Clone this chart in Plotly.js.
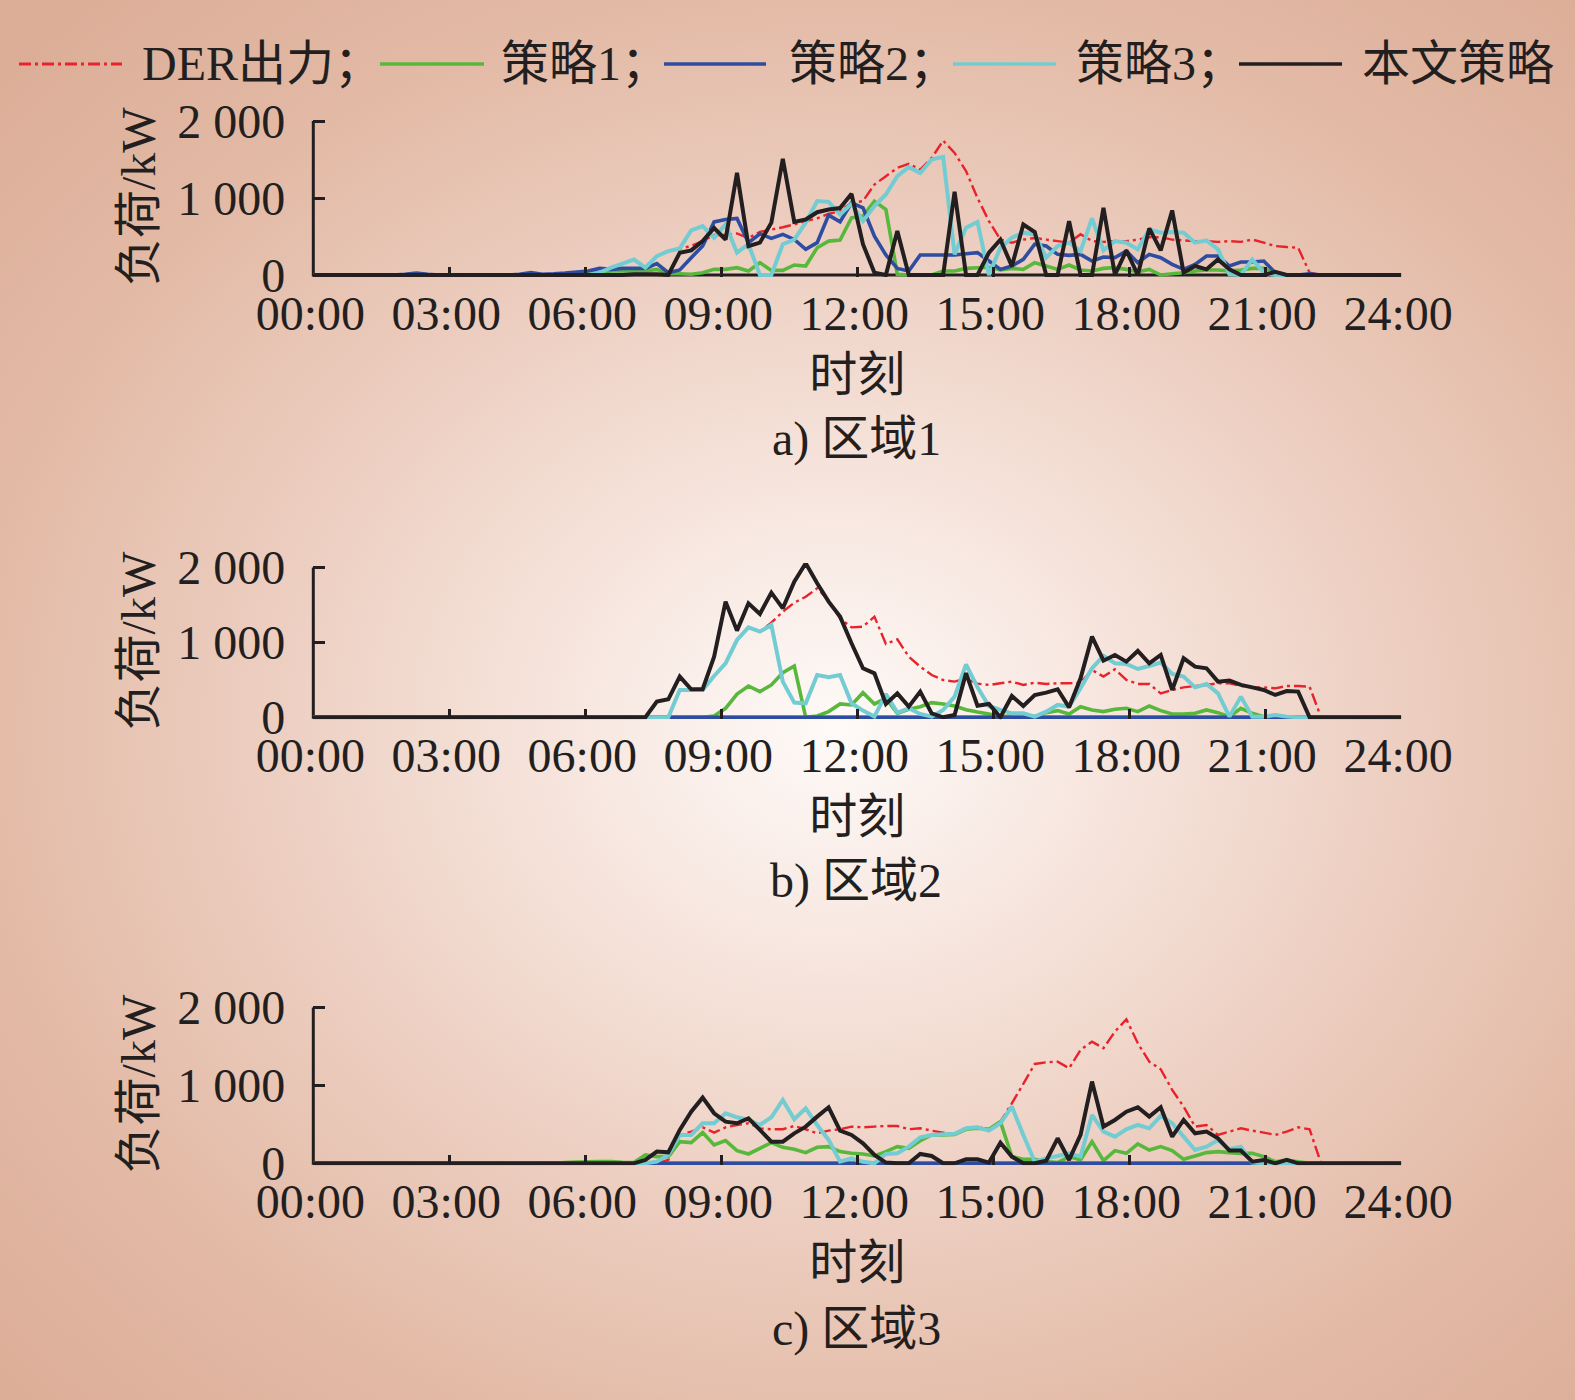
<!DOCTYPE html>
<html>
<head>
<meta charset="utf-8">
<script src="https://cdn.plot.ly/plotly-3.0.1.min.js"></script>
<style>
html,body{margin:0;padding:0;background:#e3baa6;overflow:hidden;}
#chart{width:1575px;height:1400px;background:radial-gradient(ellipse 62% 60% at 53% 52%, #fefaf8 0%, #f6e4dc 30%, #eccdbf 60%, #e3baa6 88%, #dcae98 115%);}
</style>
</head>
<body>
<div id="chart"></div>
<script>
// ---------- tick labels / categories ----------
const timeTicks = [0, 3, 6, 9, 12, 15, 18, 21, 24];
const timeLabels = ['00:00', '03:00', '06:00', '09:00', '12:00', '15:00', '18:00', '21:00', '24:00'];
const loadTicks = [0, 1000, 2000];
const loadLabels = ['0', '1 000', '2 000'];
const seriesNames = ['DER出力；', '策略1；', '策略2；', '策略3；', '本文策略'];
const regionCaptions = ['a) 区域1', 'b) 区域2', 'c) 区域3'];
const xTitle = '时刻';
const yTitle = '负荷/kW';

// 96 samples spread over 00:00-24:00
const N = 96;
const hours = Array.from({length: N}, (_, k) => k * 24 / (N - 1));

// ---------- region 1 (kW) ----------
const der_r1 = [
  0,0,0,0,0,0,0,0,0,0,0,0,
  0,0,0,0,0,0,0,0,0,0,0,0,
  0,30,95,147,200,95,246,311,335,380,440,520,
  520,540,480,560,590,620,657,700,735,795,830,937,
  960,1175,1283,1391,1443,1370,1520,1745,1585,1350,1000,700,
  460,420,460,480,460,440,420,530,440,430,440,440,
  460,490,490,460,450,440,440,430,440,430,460,420,
  376,363,354,30,0,0,0,0,0,0,0,0];
const s1_r1 = [
  0,0,0,0,0,0,0,0,0,0,0,0,
  0,0,0,0,0,0,0,0,0,0,10,20,
  30,30,52,52,52,52,73,17,17,9,30,73,
  73,95,52,160,60,60,130,117,354,440,454,743,
  765,959,851,9,0,0,0,52,52,86,95,100,
  65,86,73,160,117,73,130,65,52,86,95,73,
  43,73,0,17,30,52,65,65,52,65,86,86,
  9,0,0,0,0,0,0,0,0,0,0,0];
const s2_r1 = [
  0,0,0,0,0,0,0,0,10,25,10,0,
  0,0,0,0,0,0,10,30,10,15,25,40,
  52,86,73,86,86,86,147,30,65,225,376,690,
  720,735,420,535,475,527,462,333,420,778,690,937,
  873,505,260,86,52,260,260,260,260,276,290,181,
  73,117,203,400,376,268,255,268,181,233,225,311,
  160,268,225,138,73,138,246,246,117,168,168,181,
  30,0,0,17,0,0,0,0,0,0,0,0];
const s3_r1 = [
  0,0,0,0,0,0,0,0,0,0,0,0,
  0,0,0,0,0,0,0,0,0,0,0,0,
  0,30,95,147,200,95,246,311,345,580,635,484,
  657,290,400,0,0,400,460,680,960,950,786,925,
  700,895,1045,1283,1400,1326,1500,1534,268,613,690,0,
  354,484,550,527,225,376,420,311,735,320,440,420,
  333,592,550,557,550,420,450,333,10,0,203,30,
  0,0,0,0,0,0,0,0,0,0,0,0];
const ours_r1 = [
  0,0,0,0,0,0,0,0,0,0,0,0,
  0,0,0,0,0,0,0,0,0,0,0,0,
  0,0,0,0,10,10,10,0,290,320,440,610,
  460,1326,375,420,680,1508,690,720,815,850,870,1054,
  400,30,0,570,0,0,0,0,1080,0,0,290,
  460,115,655,557,0,0,700,0,0,873,0,320,
  0,605,320,838,30,117,73,203,73,0,0,0,
  40,0,0,0,0,0,0,0,0,0,0,0];

// ---------- region 2 (kW) ----------
const der_r2 = [
  0,0,0,0,0,0,0,0,0,0,0,0,
  0,0,0,0,0,0,0,0,0,0,0,0,
  0,0,0,0,0,0,0,0,365,365,365,552,
  721,1032,1201,1144,1264,1410,1530,1610,1722,1560,1321,1201,
  1210,1344,979,1041,810,676,565,498,476,520,450,432,
  454,476,432,463,445,454,454,463,632,543,641,498,
  445,445,320,365,400,418,432,454,454,418,400,400,
  387,418,418,409,0,0,0,0,0,0,0,0];
const s1_r2 = [
  0,0,0,0,0,0,0,0,0,0,0,0,
  0,0,0,0,0,0,0,0,0,0,0,0,
  0,0,0,0,0,0,0,0,0,0,0,18,
  120,311,418,343,432,596,685,0,18,76,178,165,
  329,178,254,53,107,142,196,178,151,100,70,45,
  9,18,18,9,62,89,45,142,98,76,107,120,
  76,151,89,45,45,53,98,62,9,120,53,9,
  0,0,0,0,0,0,0,0,0,0,0,0];
const s2_r2 = [
  0,0,0,0,0,0,0,0,0,0,0,0,
  0,0,0,0,0,0,0,0,0,0,0,0,
  0,0,0,0,0,0,0,0,0,0,0,0,
  0,0,0,0,0,0,0,0,0,0,0,0,
  0,0,0,0,0,0,0,0,0,0,0,0,
  0,0,0,0,0,0,0,0,0,0,0,0,
  0,0,0,0,0,0,0,0,0,0,0,0,
  0,0,0,0,0,0,0,0,0,0,0,0];
const s3_r2 = [
  0,0,0,0,0,0,0,0,0,0,0,0,
  0,0,0,0,0,0,0,0,0,0,0,0,
  0,0,0,0,0,0,0,0,365,365,365,552,
  721,1032,1201,1144,1233,476,196,187,565,534,565,187,
  89,9,311,62,120,45,9,98,276,705,400,151,
  98,53,53,9,76,165,142,387,654,819,721,712,
  645,685,730,578,543,400,445,320,9,276,9,9,
  31,9,0,0,0,0,0,0,0,0,0,0];
const ours_r2 = [
  0,0,0,0,0,0,0,0,0,0,0,0,
  0,0,0,0,0,0,0,0,0,0,0,0,
  0,0,0,0,0,0,209,240,543,374,374,810,
  1544,1157,1522,1380,1664,1455,1811,2056,1789,1544,1344,988,
  654,587,178,320,142,343,53,0,31,590,155,178,
  0,285,151,298,329,374,133,520,1077,756,832,743,
  886,721,832,365,788,676,654,476,490,432,400,365,
  298,351,343,0,0,0,0,0,0,0,0,0];

// ---------- region 3 (kW) ----------
const der_r3 = [
  0,0,0,0,0,0,0,0,0,0,0,0,
  0,0,0,0,0,0,0,0,0,0,0,0,
  0,0,0,0,0,0,0,43,364,407,462,394,
  462,492,514,449,437,437,479,437,385,419,437,471,
  462,471,479,479,437,449,419,394,377,449,462,437,
  535,770,1019,1275,1297,1305,1220,1455,1562,1477,1691,1849,
  1541,1305,1207,942,728,471,492,364,407,449,419,394,
  364,407,462,437,0,0,0,0,0,0,0,0];
const s1_r3 = [
  0,0,0,0,0,0,0,0,0,0,0,0,
  0,0,0,0,0,0,0,0,0,0,10,15,
  20,21,21,13,9,107,86,86,278,265,394,235,
  291,163,120,193,265,205,180,137,205,214,150,128,
  120,94,150,214,193,291,364,364,370,437,449,437,
  535,86,51,51,21,9,86,43,278,34,163,128,
  248,171,214,163,51,94,137,150,137,128,128,86,
  21,43,21,0,0,0,0,0,0,0,0,0];
const s2_r3 = [
  0,0,0,0,0,0,0,0,0,0,0,0,
  0,0,0,0,0,0,0,0,0,0,0,0,
  0,0,0,0,0,0,0,0,0,0,0,0,
  0,0,0,0,0,0,0,0,0,0,0,0,
  0,0,0,0,0,0,0,0,0,0,0,0,
  0,0,0,0,0,0,0,0,0,0,0,0,
  0,0,0,0,0,0,0,0,0,0,0,0,
  0,0,0,0,0,0,0,0,0,0,0,0];
const s3_r3 = [
  0,0,0,0,0,0,0,0,0,0,0,0,
  0,0,0,0,0,0,0,0,0,0,0,0,
  0,0,0,0,0,0,21,107,364,364,514,514,
  642,591,556,492,591,813,565,706,492,300,21,64,
  21,0,120,128,214,334,364,372,380,449,462,419,
  514,728,364,21,64,94,128,86,621,407,342,437,
  492,449,608,514,342,171,214,300,180,214,9,0,
  0,0,0,0,0,0,0,0,0,0,0,0];
const ours_r3 = [
  0,0,0,0,0,0,0,0,0,0,0,0,
  0,0,0,0,0,0,0,0,0,0,0,0,
  0,0,0,0,0,43,150,141,428,663,843,642,
  535,514,578,428,278,278,385,471,599,719,419,364,
  257,107,9,0,0,120,94,0,0,51,51,9,
  265,86,0,0,34,321,43,364,1049,471,556,663,
  719,599,719,342,556,385,407,321,163,163,21,43,
  0,43,0,0,0,0,0,0,0,0,0,0];

const regions = [
  [der_r1, s1_r1, s2_r1, s3_r1, ours_r1],
  [der_r2, s1_r2, s2_r2, s3_r2, ours_r2],
  [der_r3, s1_r3, s2_r3, s3_r3, ours_r3]
];

// ---------- styling ----------
const INK = '#231f20';
const FONT = "'Liberation Serif', 'Noto Sans CJK SC', serif";
const FS = 48;
const lineStyles = [
  {color: '#e8232b', width: 2.4, dash: '12px,4px,3px,4px'},
  {color: '#58b83c', width: 3.6, dash: 'solid'},
  {color: '#2e4ca0', width: 3.6, dash: 'solid'},
  {color: '#72ccd2', width: 4, dash: 'solid'},
  {color: INK, width: 4, dash: 'solid'}
];
const W = 1575, H = 1400;
const xDomain = [313.3 / W, 1401.2 / W];
const yRange = [-25, 2060];
// pixel positions of the 0 and 2000 lines of each panel
const panelPx = [[275, 121], [717.3, 567.5], [1163.3, 1007.5]];
const captionPx = [439, 881, 1329];

const traces = [];
const layout = {
  width: W, height: H,
  margin: {l: 0, r: 0, t: 0, b: 0, pad: 0},
  paper_bgcolor: 'rgba(0,0,0,0)',
  plot_bgcolor: 'rgba(0,0,0,0)',
  showlegend: false,
  hovermode: false,
  font: {family: FONT, size: FS, color: INK},
  shapes: [],
  annotations: []
};

regions.forEach((series, r) => {
  const sfx = r === 0 ? '' : String(r + 1);
  series.forEach((vals, s) => {
    traces.push({
      x: hours, y: vals, type: 'scatter', mode: 'lines',
      xaxis: 'x' + sfx, yaxis: 'y' + sfx,
      name: seriesNames[s], line: Object.assign({simplify: false}, lineStyles[s]),
      hoverinfo: 'skip'
    });
  });
  const [p0, p2000] = panelPx[r];
  const k = (p0 - p2000) / 2000;
  const bottom = p0 - yRange[0] * k;
  const top = p2000 - (yRange[1] - 2000) * k;
  layout['xaxis' + sfx] = {
    domain: xDomain, range: [0, 24], anchor: 'y' + sfx,
    tickmode: 'array', tickvals: timeTicks, ticktext: timeLabels,
    ticks: 'inside', ticklen: 10, tickwidth: 3, tickcolor: INK,
    ticklabelstandoff: 4, ticklabelshift: -3,
    showline: false, showgrid: false, zeroline: false,
    tickfont: {family: FONT, size: FS, color: INK},
    title: {text: xTitle, font: {family: FONT, size: FS, color: INK}, standoff: 18},
    fixedrange: true
  };
  layout['yaxis' + sfx] = {
    domain: [1 - bottom / H, 1 - top / H], range: yRange, anchor: 'x' + sfx,
    tickmode: 'array', tickvals: loadTicks, ticktext: loadLabels,
    ticks: 'inside', ticklen: 12, tickwidth: 3, tickcolor: INK,
    ticklabelstandoff: 27,
    showline: false, showgrid: false, zeroline: false,
    tickfont: {family: FONT, size: FS, color: INK},
    title: {text: yTitle, font: {family: FONT, size: FS, color: INK}, standoff: 6},
    fixedrange: true
  };
  // axis lines
  layout.shapes.push({type: 'line', layer: 'below', xref: 'x' + sfx, yref: 'y' + sfx,
    x0: 0, x1: 24, y0: 0, y1: 0, line: {color: INK, width: 3}});
  layout.shapes.push({type: 'line', layer: 'below', xref: 'paper', yref: 'y' + sfx,
    x0: xDomain[0], x1: xDomain[0], y0: -20, y1: 2000, line: {color: INK, width: 3}});
  // caption
  layout.annotations.push({text: regionCaptions[r], xref: 'paper', yref: 'paper',
    x: 856 / W, y: 1 - captionPx[r] / H, xanchor: 'center', yanchor: 'middle',
    showarrow: false, font: {family: FONT, size: FS, color: INK}});
});

// legend drawn across the top
const legendY = 1 - 64 / H;
const legendLines = [[19, 122], [380, 484], [664, 766], [953, 1056], [1239, 1342]];
const legendText = [140, 499, 787, 1074, 1360];
seriesNames.forEach((name, s) => {
  layout.shapes.push({type: 'line', xref: 'paper', yref: 'paper',
    x0: legendLines[s][0] / W, x1: legendLines[s][1] / W, y0: legendY, y1: legendY,
    line: {color: lineStyles[s].color, width: s === 0 ? 3.2 : 3.4, dash: lineStyles[s].dash}});
  layout.annotations.push({text: name, xref: 'paper', yref: 'paper',
    x: legendText[s] / W, y: legendY, xanchor: 'left', yanchor: 'middle',
    showarrow: false, font: {family: FONT, size: FS, color: INK}});
});

Plotly.newPlot('chart', traces, layout, {displayModeBar: false, staticPlot: true});
</script>
</body>
</html>
